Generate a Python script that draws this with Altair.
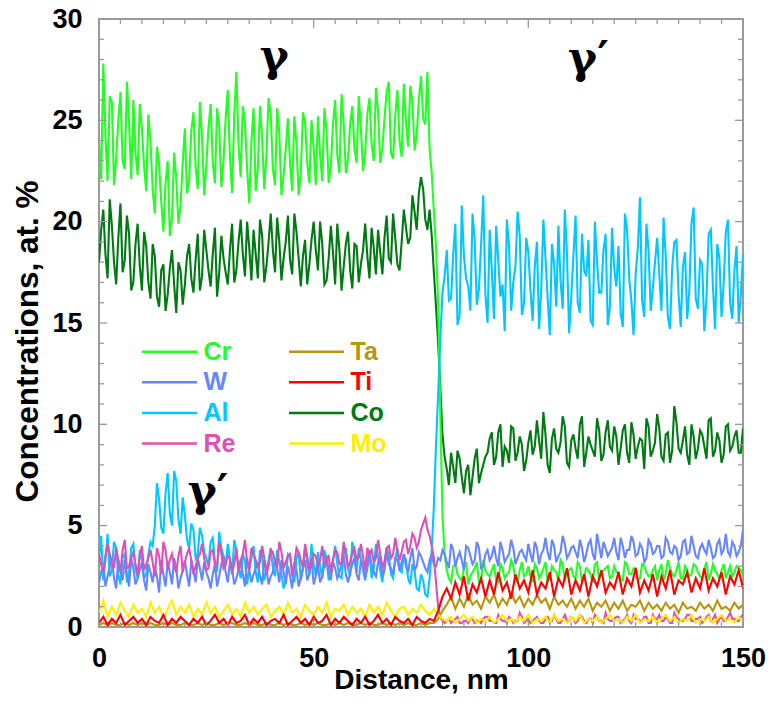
import altair as alt
import pandas as pd

# ---------------- data ----------------
# values at whole nm (0..150)
cr = [24.0, 27.8, 22.0, 25.9, 23.1, 26.4, 22.6, 24.9, 26.0, 22.3, 24.6,
      21.5, 23.9, 20.4, 22.8, 19.5, 23.0, 20.2, 22.1, 20.8, 24.6,
      22.0, 25.4, 21.6, 24.2, 22.8, 25.8, 21.9, 24.7, 23.0, 26.5,
      21.4, 27.4, 22.2, 24.9, 20.9, 25.6, 22.6, 24.1, 23.3, 25.3,
      21.8, 24.4, 22.3, 25.1, 21.5, 23.8, 22.4, 24.9, 21.9, 23.6,
      25.2, 22.0, 24.5, 22.7, 26.0, 22.4, 24.8, 23.1, 25.7, 22.9,
      24.6, 23.4, 26.1, 23.0, 25.5, 23.6, 26.4, 23.4, 25.2, 24.0,
      26.8, 23.7, 25.9, 24.3, 27.2, 24.8, 23.6, 20.5, 16.0, 5.5,
      2.8, 2.2, 3.1, 2.4, 2.9, 2.1, 2.7, 3.2, 2.3, 2.8,
      2.5, 3.1, 2.2, 2.9, 2.6, 3.3, 2.3, 2.8, 2.5, 3.0,
      2.2, 2.9, 2.6, 3.2, 2.4, 2.8, 2.3, 3.1, 2.6, 2.9,
      2.4, 3.0, 2.5, 2.8, 2.2, 3.2, 2.6, 2.9, 2.4, 3.0,
      2.7, 2.3, 3.1, 2.6, 2.9, 2.4, 3.0, 2.5, 2.8, 2.3,
      3.1, 2.6, 2.9, 2.5, 3.2, 2.4, 2.8, 2.6, 3.0, 2.5,
      2.9, 2.3, 3.1, 2.6, 2.8, 2.4, 3.0, 2.7, 2.9, 2.6]
# values at half nm (0.5..149.5)
cr_half = [22.1, 24.3, 26.2, 21.8, 25.0, 23.0, 26.9, 22.1, 23.4, 25.8,
           22.7, 25.3, 21.6, 23.7, 21.0, 21.9, 19.3, 23.4, 19.9, 22.9,
           21.4, 24.5, 22.7, 25.9, 21.3, 24.6, 22.9, 25.6, 21.7, 25.1,
           23.2, 25.2, 23.8, 25.7, 22.6, 23.9, 21.5, 25.7, 21.6, 26.1,
           22.6, 25.6, 21.3, 23.6, 22.9, 25.2, 21.3, 25.4, 22.9, 25.0,
           21.8, 23.3, 25.6, 21.9, 24.8, 23.3, 26.3, 22.4, 24.8, 23.6,
           26.2, 22.5, 25.3, 23.8, 26.6, 22.9, 25.1, 26.9, 23.1, 26.5,
           23.2, 24.9, 26.7, 23.5, 26.0, 25.1, 27.4, 22.4, 18.7, 10.5,
           3.6, 2.4, 3.0, 2.6, 2.3, 3.2, 2.5, 2.9, 2.2, 3.3,
           2.6, 2.8, 2.3, 3.1, 2.4, 2.7, 3.0, 2.2, 3.2, 2.6,
           2.5, 3.1, 2.4, 2.9, 2.2, 3.0, 2.7, 3.3, 2.3, 2.8,
           2.5, 3.2, 2.2, 2.9, 2.6, 3.1, 2.3, 2.8, 3.0, 2.5,
           2.7, 2.4, 3.2, 2.6, 2.9, 2.3, 3.1, 2.7, 2.5, 3.0,
           2.8, 2.3, 3.3, 2.6, 2.8, 2.4, 3.0, 2.5, 3.1, 2.7,
           2.4, 3.2, 2.6, 2.8, 2.4, 3.1, 2.7, 2.5, 3.0, 2.8]

co = [18.0, 20.6, 17.2, 19.8, 16.9, 20.9, 18.1, 19.4, 17.0, 19.9, 16.6,
      18.8, 16.2, 18.3, 15.8, 17.9, 16.4, 18.6, 15.5, 17.6, 16.9,
      18.9, 16.5, 19.4, 17.3, 18.6, 16.8, 19.7, 17.5, 18.2, 16.9,
      19.9, 17.6, 20.1, 17.3, 18.7, 19.6, 17.2, 19.3, 17.8, 20.4,
      17.5, 19.0, 18.2, 20.3, 17.4, 19.5, 16.8, 19.1, 17.9, 20.0,
      17.6, 18.9, 17.1, 19.8, 16.9, 18.6, 17.8, 19.5, 16.7, 18.8,
      17.9, 19.9, 17.2, 18.7, 19.6, 17.4, 20.3, 18.0, 19.2, 17.6,
      20.6, 18.9, 21.3, 19.6, 22.2, 20.1, 20.6, 17.5, 14.0, 9.5,
      7.8, 8.6, 7.1, 8.3, 6.6, 8.0, 7.4, 8.8, 7.6, 8.4,
      9.3, 8.0, 9.6, 7.9, 8.7, 9.9, 8.2, 9.4, 7.7, 9.1,
      8.5, 10.2, 8.3, 9.5, 7.6, 9.8, 8.6, 10.4, 8.1, 9.2,
      8.8, 10.0, 7.9, 9.4, 8.7, 10.3, 8.2, 9.6, 8.9, 9.9,
      8.0, 9.7, 8.6, 10.1, 8.3, 9.3, 7.8, 9.9, 8.7, 10.5,
      8.4, 9.5, 8.1, 10.9, 8.8, 9.2, 8.5, 10.0, 8.3, 9.7,
      8.9, 10.2, 8.4, 9.6, 8.1, 9.9, 8.7, 9.4, 8.6, 9.8]
co_half = [19.6, 18.4, 21.1, 18.0, 19.2, 17.5, 20.3, 16.6, 18.9, 17.8,
           19.5, 17.0, 18.9, 16.3, 17.6, 15.6, 17.7, 16.9, 18.0, 15.9,
           18.3, 17.2, 18.1, 16.6, 19.6, 17.6, 18.4, 16.3, 19.3, 17.5,
           18.6, 17.0, 19.0, 18.4, 20.0, 17.1, 18.4, 20.1, 17.0, 19.0,
           18.6, 20.2, 17.1, 19.0, 18.1, 20.4, 18.2, 18.3, 16.9, 19.1,
           18.6, 20.0, 16.9, 18.2, 18.5, 19.9, 16.6, 18.9, 17.6, 18.9,
           17.0, 18.6, 18.3, 19.7, 17.4, 18.5, 19.2, 18.2, 20.4, 17.9,
           19.0, 19.7, 19.2, 20.5, 21.4, 21.6, 19.6, 19.3, 15.8, 11.8,
           8.4, 7.0, 7.9, 8.7, 7.4, 7.7, 6.5, 8.3, 7.1, 8.0,
           8.6, 9.6, 8.4, 10.0, 8.9, 8.1, 9.8, 8.6, 9.0, 8.2,
           9.7, 8.9, 9.2, 10.6, 8.0, 9.3, 8.8, 9.1, 9.9, 7.9,
           9.5, 8.3, 10.4, 8.6, 9.0, 8.4, 9.7, 8.5, 10.2, 8.7,
           9.4, 8.8, 10.0, 8.1, 9.5, 8.9, 9.2, 10.3, 8.4, 9.1,
           9.8, 8.2, 9.6, 8.7, 10.1, 8.6, 9.9, 8.0, 9.4, 8.8,
           9.5, 8.3, 10.3, 8.7, 9.2, 8.5, 10.0, 8.9, 9.7, 8.6]

al = [3.4, 2.3, 4.6, 2.8, 3.9, 2.1, 3.6, 2.7, 4.1, 2.4, 3.3,
      2.6, 4.2, 5.0, 6.3, 4.6, 7.6, 5.0, 7.2, 4.6, 5.5,
      3.9, 4.8, 3.6, 4.5, 3.4, 4.2, 3.2, 4.7, 3.5, 4.1,
      2.6, 3.8, 2.4, 3.3, 2.9, 4.0, 2.2, 3.5, 2.7, 3.9,
      2.5, 3.2, 1.9, 3.6, 2.8, 3.4, 2.3, 3.9, 2.6, 3.1,
      3.7, 2.4, 3.3, 2.8, 4.0, 2.5, 3.6, 2.9, 4.2, 2.7,
      3.4, 2.3, 3.8, 2.9, 3.5, 2.2, 3.9, 2.6, 3.3, 2.8,
      3.6, 2.4, 3.1, 1.9, 2.6, 1.6, 2.4, 6.0, 11.5, 16.5,
      18.6, 16.2, 19.9, 15.4, 18.3, 16.8, 20.4, 15.9, 18.9, 16.4,
      19.6, 15.2, 18.1, 16.9, 20.1, 15.6, 17.8, 19.3, 16.0, 18.5,
      15.1, 19.0, 16.6, 18.2, 14.4, 17.9, 19.8, 15.7, 18.4, 16.3,
      20.3, 15.5, 17.6, 19.1, 14.9, 18.0, 16.5, 19.4, 15.8, 17.7,
      18.8, 14.8, 19.6, 16.1, 17.4, 21.2, 15.3, 18.6, 16.7, 19.2,
      15.6, 18.3, 14.7, 19.0, 16.4, 17.8, 15.2, 19.9, 16.2, 18.1,
      14.6, 19.4, 16.8, 18.9, 15.3, 19.5, 16.0, 17.6, 15.0, 18.4]
al_half = [4.5, 3.3, 2.5, 4.2, 2.6, 3.4, 2.2, 3.9, 2.9, 3.8,
           2.4, 3.6, 4.0, 7.1, 4.9, 6.6, 5.6, 7.7, 5.3, 6.4,
           4.3, 5.1, 3.4, 4.9, 3.7, 3.0, 4.4, 2.7, 3.9, 3.0,
           3.3, 4.3, 2.9, 3.6, 2.1, 3.4, 2.7, 3.8, 2.3, 3.3,
           2.9, 3.8, 2.6, 2.3, 3.5, 2.2, 3.7, 2.9, 3.2, 4.1,
           2.5, 3.0, 3.8, 2.3, 3.3, 3.1, 2.4, 3.9, 2.5, 3.5,
           3.9, 2.8, 3.2, 2.4, 4.1, 2.8, 3.2, 3.5, 2.4, 3.9,
           2.7, 3.3, 2.1, 2.8, 1.8, 2.3, 1.5, 3.8, 9.0, 14.2,
           17.3, 16.1, 18.4, 14.9, 20.8, 17.2, 15.6, 19.1, 16.7, 21.3,
           15.0, 17.6, 19.8, 16.3, 14.6, 18.8, 17.0, 20.5, 15.4, 19.2,
           16.6, 17.8, 14.7, 20.1, 16.2, 18.9, 15.8, 17.1, 20.6, 14.5,
           18.3, 16.0, 19.4, 17.3, 15.1, 20.0, 16.5, 18.6, 14.9, 19.7,
           16.8, 15.5, 20.4, 17.2, 14.4, 18.7, 16.1, 19.9, 15.6, 18.0,
           17.4, 20.2, 15.3, 17.7, 19.1, 14.8, 18.5, 16.6, 20.7, 15.7,
           17.9, 16.3, 19.6, 14.7, 18.2, 17.0, 20.1, 15.2, 18.8, 16.4]

w = [2.2, 3.1, 2.5, 3.4, 1.9, 2.8, 3.3, 2.0, 2.9, 2.4, 3.2,
     1.8, 2.7, 3.0, 1.7, 2.6, 3.2, 2.1, 2.9, 2.4, 3.3,
     2.0, 2.8, 3.4, 2.3, 2.7, 1.9, 3.1, 2.5, 3.5, 2.2,
     2.9, 2.4, 3.3, 2.0, 2.8, 2.6, 3.2, 2.1, 2.9, 2.5,
     3.4, 2.2, 2.7, 3.0, 1.9, 2.8, 2.4, 3.3, 2.6, 2.1,
     3.0, 2.5, 3.4, 2.3, 2.9, 2.7, 3.5, 2.2, 3.1, 2.6,
     3.3, 2.4, 3.6, 2.7, 3.2, 2.5, 3.7, 2.9, 3.4, 2.8,
     3.6, 2.7, 3.9, 3.0, 3.5, 2.9, 3.3, 3.1, 3.4, 3.8,
     3.2, 4.1, 3.0, 3.7, 2.8, 3.9, 3.1, 4.2, 2.9, 3.6,
     3.3, 4.0, 3.0, 3.8, 3.4, 4.3, 3.1, 3.7, 3.5, 4.1,
     3.2, 3.9, 3.6, 4.4, 3.3, 4.0, 3.5, 4.5, 3.4, 3.9,
     3.7, 4.3, 3.2, 4.1, 3.6, 4.6, 3.4, 3.9, 3.7, 4.4,
     3.3, 4.0, 3.8, 4.5, 3.5, 4.1, 3.2, 4.3, 3.6, 4.0,
     3.4, 4.4, 3.7, 4.0, 3.3, 4.2, 3.6, 4.5, 3.5, 3.9,
     3.8, 4.3, 3.4, 4.1, 3.6, 4.6, 3.5, 4.0, 3.7, 4.8]
w_half = [2.7, 2.0, 3.0, 2.4, 3.3, 2.3, 2.6, 3.4, 2.1, 2.8,
          2.3, 3.1, 2.2, 2.5, 3.3, 2.0, 2.7, 3.4, 1.9, 2.8,
          2.6, 3.3, 2.2, 2.9, 3.2, 2.4, 2.6, 2.0, 3.1, 2.7,
          3.2, 2.1, 2.8, 2.6, 3.4, 2.2, 2.9, 2.5, 3.3, 2.1,
          2.7, 2.9, 3.3, 2.1, 2.5, 3.2, 2.0, 2.9, 2.3, 3.4,
          2.5, 2.2, 3.1, 2.8, 3.2, 2.4, 3.1, 2.6, 2.7, 3.4,
          2.3, 3.0, 2.9, 3.1, 2.5, 3.5, 2.8, 3.1, 2.6, 3.3,
          3.2, 3.0, 3.4, 2.8, 3.7, 3.2, 2.7, 3.6, 3.0, 3.3,
          3.6, 2.9, 3.8, 3.4, 3.3, 4.0, 3.5, 3.3, 3.9, 3.0,
          3.8, 3.5, 3.4, 4.2, 3.2, 3.6, 3.9, 3.4, 3.8, 3.3,
          3.6, 4.2, 3.1, 3.8, 3.7, 4.3, 3.2, 3.7, 4.1, 3.6,
          4.0, 3.4, 3.9, 3.6, 4.3, 3.3, 4.0, 4.2, 3.5, 3.9,
          3.7, 4.4, 3.4, 3.8, 4.2, 3.6, 3.9, 3.4, 4.1, 3.7,
          4.0, 3.5, 4.2, 3.6, 3.9, 3.5, 4.3, 3.7, 4.0, 3.4,
          4.1, 3.6, 3.9, 3.5, 4.3, 3.8, 3.7, 4.2, 3.5, 4.0]

re = [3.6, 2.8, 4.1, 3.2, 3.9, 2.7, 4.3, 3.0, 3.7, 2.6, 4.0,
      3.1, 3.8, 2.5, 3.5, 4.2, 2.9, 3.6, 2.7, 4.0, 3.2,
      3.9, 2.6, 3.4, 4.1, 2.8, 3.7, 3.1, 4.2, 2.9, 3.5,
      2.7, 3.9, 3.3, 4.3, 2.8, 3.6, 3.0, 4.0, 2.6, 3.8,
      3.2, 4.2, 2.9, 3.5, 2.5, 3.9, 3.3, 4.1, 2.8, 3.6,
      3.0, 4.0, 3.4, 2.7, 3.8, 3.1, 4.2, 2.9, 3.7, 3.3,
      4.1, 2.8, 3.6, 3.2, 4.3, 3.0, 3.9, 3.4, 4.4, 3.3,
      4.2, 3.6, 4.6, 3.9, 4.8, 5.4, 4.5, 3.4, 1.0, 0.3,
      0.3, 0.2, 0.4, 0.2, 0.3, 0.2, 0.4, 0.3, 0.2, 0.5,
      0.3, 0.2, 0.6, 0.3, 0.2, 0.4, 0.3, 0.7, 0.2, 0.4,
      0.3, 0.5, 0.2, 0.4, 0.3, 0.6, 0.2, 0.4, 0.3, 0.5,
      0.2, 0.6, 0.3, 0.4, 0.2, 0.5, 0.3, 0.7, 0.3, 0.4,
      0.5, 0.3, 0.6, 0.2, 0.4, 0.3, 0.5, 0.2, 0.6, 0.4,
      0.3, 0.5, 0.2, 0.7, 0.4, 0.3, 0.6, 0.3, 0.4, 0.5,
      0.3, 0.6, 0.4, 0.2, 0.5, 0.3, 0.7, 0.4, 0.3, 0.6]
re_half = [3.1, 3.5, 3.6, 2.9, 3.3, 3.8, 2.9, 3.4, 3.1, 3.5,
           2.8, 3.4, 3.2, 3.9, 2.6, 3.8, 3.3, 3.0, 3.5, 2.7,
           3.6, 3.3, 3.0, 3.6, 3.4, 2.9, 3.8, 3.0, 3.6, 3.1,
           3.4, 3.1, 2.7, 3.6, 3.2, 3.9, 3.3, 3.2, 3.4, 3.0,
           3.7, 3.0, 3.7, 3.2, 3.6, 3.1, 3.7, 2.9, 3.5, 3.2,
           3.5, 3.3, 2.9, 3.5, 3.3, 3.7, 3.2, 3.6, 3.2, 3.9,
           3.4, 3.5, 3.9, 3.8, 3.4, 3.6, 3.2, 4.0, 3.6, 3.8,
           3.7, 4.3, 4.0, 4.4, 4.2, 5.1, 4.8, 4.0, 2.2, 0.5,
           0.2, 0.4, 0.3, 0.5, 0.2, 0.3, 0.4, 0.2, 0.3, 0.4,
           0.5, 0.3, 0.2, 0.4, 0.3, 0.5, 0.2, 0.3, 0.5, 0.3,
           0.2, 0.4, 0.3, 0.2, 0.5, 0.3, 0.4, 0.2, 0.6, 0.3,
           0.4, 0.3, 0.5, 0.2, 0.4, 0.6, 0.3, 0.2, 0.4, 0.3,
           0.5, 0.2, 0.4, 0.3, 0.6, 0.4, 0.3, 0.5, 0.2, 0.4,
           0.6, 0.3, 0.4, 0.2, 0.5, 0.3, 0.4, 0.6, 0.3, 0.4,
           0.2, 0.5, 0.3, 0.6, 0.4, 0.3, 0.5, 0.4, 0.3, 0.5]

ta = [0.1, 0.2, 0.1, 0.2, 0.1, 0.1, 0.2, 0.1, 0.2, 0.1, 0.2,
      0.1, 0.2, 0.1, 0.1, 0.2, 0.1, 0.2, 0.1, 0.1, 0.2,
      0.1, 0.1, 0.2, 0.1, 0.2, 0.1, 0.1, 0.2, 0.1, 0.2,
      0.2, 0.1, 0.1, 0.2, 0.1, 0.2, 0.1, 0.1, 0.2, 0.1,
      0.1, 0.2, 0.1, 0.2, 0.1, 0.1, 0.2, 0.1, 0.2, 0.1,
      0.2, 0.1, 0.1, 0.2, 0.1, 0.2, 0.1, 0.2, 0.1, 0.1,
      0.2, 0.1, 0.2, 0.1, 0.1, 0.2, 0.1, 0.2, 0.1, 0.2,
      0.1, 0.2, 0.1, 0.1, 0.2, 0.1, 0.2, 0.2, 0.4, 0.8,
      1.1, 1.5, 0.9, 1.4, 1.0, 1.6, 1.1, 1.3, 0.9, 1.5,
      1.2, 1.6, 1.0, 1.4, 1.1, 1.7, 1.2, 1.5, 1.0, 1.4,
      1.1, 1.6, 1.2, 1.4, 0.9, 1.5, 1.1, 1.3, 1.0, 1.4,
      0.9, 1.3, 1.0, 1.4, 0.8, 1.2, 1.0, 1.3, 0.8, 1.2,
      0.9, 1.3, 0.8, 1.1, 1.0, 1.3, 0.8, 1.2, 0.9, 1.1,
      0.8, 1.2, 0.9, 1.1, 0.7, 1.2, 0.9, 1.0, 0.8, 1.2,
      0.9, 1.1, 0.8, 1.3, 0.9, 1.0, 0.8, 1.2, 0.9, 1.1]

ti = [0.2, 0.5, 0.1, 0.4, 0.2, 0.6, 0.1, 0.3, 0.5, 0.2, 0.4,
      0.1, 0.5, 0.3, 0.2, 0.6, 0.1, 0.4, 0.2, 0.5, 0.3,
      0.1, 0.4, 0.2, 0.5, 0.1, 0.3, 0.6, 0.2, 0.4, 0.1,
      0.5, 0.2, 0.3, 0.6, 0.1, 0.4, 0.2, 0.5, 0.1, 0.3,
      0.4, 0.2, 0.6, 0.1, 0.3, 0.5, 0.2, 0.4, 0.1, 0.5,
      0.2, 0.3, 0.6, 0.1, 0.4, 0.2, 0.5, 0.3, 0.1, 0.4,
      0.2, 0.5, 0.1, 0.3, 0.6, 0.2, 0.4, 0.1, 0.5, 0.3,
      0.2, 0.4, 0.1, 0.5, 0.3, 0.2, 0.4, 0.3, 0.8, 1.5,
      1.9, 1.4, 2.2, 1.6, 2.5, 1.3, 2.1, 1.7, 2.4, 1.5,
      2.3, 1.6, 2.7, 1.8, 2.2, 1.4, 2.6, 1.9, 2.3, 1.7,
      2.8, 1.6, 2.2, 1.9, 2.7, 1.5, 2.4, 2.0, 2.9, 1.6,
      2.3, 1.8, 2.6, 1.5, 2.5, 2.0, 2.8, 1.7, 2.2, 1.9,
      2.7, 1.6, 2.4, 2.0, 2.9, 1.7, 2.3, 1.8, 2.6, 1.5,
      2.5, 1.9, 2.8, 1.6, 2.3, 2.1, 2.7, 1.7, 2.4, 1.9,
      2.9, 1.8, 2.4, 2.0, 2.7, 1.6, 2.5, 2.1, 2.8, 1.9]

mo = [0.7, 1.3, 0.5, 1.0, 0.6, 1.2, 0.8, 0.5, 1.1, 0.7, 0.9,
      0.5, 1.2, 0.7, 1.0, 0.4, 0.9, 1.3, 0.6, 1.0, 0.7,
      1.1, 0.5, 0.9, 0.6, 1.2, 0.7, 1.0, 0.5, 0.8, 1.1,
      0.6, 0.9, 0.5, 1.2, 0.7, 1.0, 0.6, 0.9, 1.1, 0.5,
      0.8, 1.0, 0.6, 1.2, 0.7, 0.9, 0.5, 1.1, 0.8, 0.6,
      1.0, 0.7, 1.2, 0.5, 0.9, 0.8, 1.1, 0.6, 1.0, 0.7,
      0.9, 0.5, 1.1, 0.7, 1.0, 0.6, 1.2, 0.8, 0.5, 0.9,
      1.0, 0.6, 0.9, 0.7, 1.1, 0.8, 0.6, 0.9, 0.6, 0.4,
      0.3, 0.5, 0.2, 0.4, 0.6, 0.3, 0.5, 0.2, 0.4, 0.3,
      0.5, 0.2, 0.4, 0.6, 0.3, 0.4, 0.2, 0.5, 0.3, 0.6,
      0.2, 0.4, 0.3, 0.5, 0.2, 0.6, 0.3, 0.4, 0.2, 0.5,
      0.3, 0.6, 0.2, 0.4, 0.3, 0.5, 0.2, 0.4, 0.6, 0.3,
      0.4, 0.2, 0.5, 0.3, 0.6, 0.2, 0.4, 0.3, 0.5, 0.2,
      0.4, 0.6, 0.3, 0.5, 0.2, 0.4, 0.3, 0.6, 0.2, 0.4,
      0.3, 0.5, 0.2, 0.4, 0.6, 0.3, 0.4, 0.2, 0.5, 0.3]

whole = {"Cr": cr, "W": w, "Al": al, "Re": re, "Ta": ta, "Ti": ti, "Co": co, "Mo": mo}
half = {"Cr": cr_half, "W": w_half, "Al": al_half, "Re": re_half, "Co": co_half}

colors = {"Cr": "#22ff22", "W": "#6685ff", "Al": "#00c8ff", "Re": "#dc50b8",
          "Ta": "#b8960a", "Ti": "#ff0000", "Co": "#007a12", "Mo": "#ffee00"}

legend_order = ["Cr", "W", "Al", "Re", "Ta", "Ti", "Co", "Mo"]
draw_order = ["Co", "Cr", "Al", "W", "Re", "Ta", "Mo", "Ti"]

phase_labels = ["γ", "γ′", "γ′"]
phase_x = [40.8, 114.0, 25.4]
phase_y = [28.1, 28.0, 6.6]

x_ticks_minor = [v for v in range(0, 151, 5) if v % 50 != 0]
x_ticks_major = [0, 50, 100, 150]
y_ticks_minor = [v for v in range(0, 31) if v % 5 != 0]
y_ticks_major = [0, 5, 10, 15, 20, 25, 30]


def series_frame(el):
    v = whole[el]
    h = half.get(el)
    if h is None:
        return pd.DataFrame({"distance": list(range(len(v))), "conc": v, "element": el})
    xs, ys = [], []
    for i in range(len(v)):
        xs.append(float(i)); ys.append(v[i])
        if i < len(h):
            xs.append(i + 0.5); ys.append(h[i])
    return pd.DataFrame({"distance": xs, "conc": ys, "element": el})


# ---------------- chart ----------------
W, H = 644, 608
FONT = "Liberation Sans"
FRAME = "#9a9a9a"

xscale = alt.Scale(domain=[0, 150], nice=False, zero=False)
yscale = alt.Scale(domain=[0, 30], nice=False, zero=False)
cscale = alt.Scale(domain=legend_order, range=[colors[k] for k in legend_order])

legend = alt.Legend(
    title=None, orient="none", legendX=36, legendY=320, columns=2,
    direction="vertical",
    symbolType="M-1,0H9", symbolSize=121, symbolStrokeWidth=2.5,
    labelFont=FONT, labelFontWeight="bold", labelFontSize=25,
    labelColor={"expr": "scale('color', datum.value)"},
    labelOffset=43.5, rowPadding=4.7, columnPadding=46, padding=0,
)

x_axis = alt.Axis(values=x_ticks_major, title="Distance, nm", labelFont=FONT,
                  labelFontWeight="bold", labelFontSize=27, labelColor="black",
                  labelPadding=18, labelFlush=False, ticks=False, tickSize=0,
                  domain=False, grid=False,
                  titleFont=FONT, titleFontWeight="bold", titleFontSize=28,
                  titleColor="black", titlePadding=-5)
y_axis = alt.Axis(values=y_ticks_major, title="Concentrations, at. %", labelFont=FONT,
                  labelFontWeight="bold", labelFontSize=27, labelColor="black",
                  labelPadding=17, labelFlush=False, ticks=False, tickSize=0,
                  domain=False, grid=False,
                  titleFont=FONT, titleFontWeight="bold", titleFontSize=31.5,
                  titleColor="black", titlePadding=7, titleY=322)

X = lambda f: alt.X(f, scale=xscale, axis=x_axis)
Y = lambda f: alt.Y(f, scale=yscale, axis=y_axis)

layers = []
for el in draw_order:
    layers.append(
        alt.Chart(series_frame(el)).mark_line(strokeWidth=2.1, clip=True).encode(
            x=X("distance:Q"), y=Y("conc:Q"),
            color=alt.Color("element:N", scale=cscale, legend=legend),
        )
    )

phase_df = pd.DataFrame({"px": phase_x, "py": phase_y, "label": phase_labels})
phase = alt.Chart(phase_df).mark_text(
    font="DejaVu Serif", fontWeight="bold", fontSize=44, color="black",
    align="center", baseline="middle"
).encode(x=X("px:Q"), y=Y("py:Q"), text="label:N")


def xt(vals, length):
    d = pd.DataFrame({"t": vals})
    bottom = alt.Chart(d).mark_rule(color=FRAME, strokeWidth=1.3).encode(
        x=X("t:Q"), y=alt.value(H), y2=alt.value(H - length))
    top = alt.Chart(d).mark_rule(color=FRAME, strokeWidth=1.3).encode(
        x=X("t:Q"), y=alt.value(0), y2=alt.value(length))
    return [bottom, top]


def yt(vals, length):
    d = pd.DataFrame({"t": vals})
    left = alt.Chart(d).mark_rule(color=FRAME, strokeWidth=1.3).encode(
        y=Y("t:Q"), x=alt.value(0), x2=alt.value(length))
    right = alt.Chart(d).mark_rule(color=FRAME, strokeWidth=1.3).encode(
        y=Y("t:Q"), x=alt.value(W), x2=alt.value(W - length))
    return [left, right]


ticks = xt(x_ticks_minor, 5) + xt(x_ticks_major, 9) + yt(y_ticks_minor, 5) + yt(y_ticks_major, 8)

chart = alt.layer(*layers, phase, *ticks).properties(
    width=W, height=H,
    autosize=alt.AutoSizeParams(type="none"),
    padding={"left": 91, "top": 11, "right": 25, "bottom": 80},
    background="white",
).configure_view(stroke=FRAME, strokeWidth=2)

chart.save("out.html", embed_options={"renderer": "svg", "actions": False})
